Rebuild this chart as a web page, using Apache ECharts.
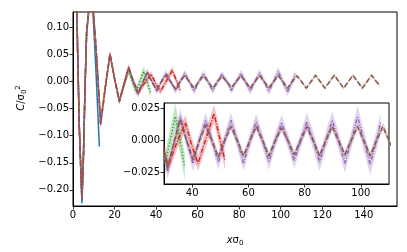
<!DOCTYPE html>
<html><head><meta charset="utf-8">
<script src="https://cdn.jsdelivr.net/npm/echarts@6/dist/echarts.min.js"></script>
<style>html,body{margin:0;padding:0;background:#fff}#c{width:407px;height:252px}</style>
</head><body><div id="c"></div>
<script>
// ---- data ----
const xBlue  = [0, 1, 2, 3, 4.3, 5.0, 5.8, 6.55, 8.8, 11.05, 12.7];
const yBlue  = [0.45, 0.33, 0.10, -0.08, -0.225, -0.15, -0.01, 0.09, 0.19, 0.02, -0.12];
const eBlue  = [0.004, 0.004, 0.004, 0.004, 0.005, 0.005, 0.005, 0.005, 0.005, 0.005, 0.005];

const xOrange = [0, 1, 2, 3, 4.3, 5.0, 5.8, 6.55, 8.8, 11.05, 13.3, 15.55, 17.8, 20.05, 22.3, 24.55, 26.5];
const yOrange = [0.45, 0.33, 0.10, -0.08, -0.215, -0.14, -0.01, 0.09, 0.175, 0.06, -0.068, -0.01, 0.05, 0.004, -0.035, -0.004, 0.024];
const eOrange = [0.004, 0.004, 0.004, 0.004, 0.005, 0.005, 0.005, 0.005, 0.006, 0.006, 0.006, 0.006, 0.006, 0.006, 0.006, 0.006, 0.006];

const xGreen = [0, 1, 2, 3, 4.3, 5.0, 5.8, 6.55, 8.8, 11.05, 13.3, 15.55, 17.8, 20.05, 22.3, 24.55, 26.8, 28.6, 30.4, 32.2, 34.0, 35.7, 37.4];
const yGreen = [0.45, 0.33, 0.10, -0.08, -0.218, -0.14, -0.01, 0.09, 0.18, 0.065, -0.075, -0.01, 0.05, 0.006, -0.035, -0.008, 0.02, 0.0, -0.018, 0.0, 0.019, 0.0, -0.021];
const eGreen = [0.004, 0.004, 0.004, 0.004, 0.005, 0.005, 0.005, 0.005, 0.006, 0.006, 0.006, 0.006, 0.006, 0.006, 0.007, 0.007, 0.008, 0.008, 0.008, 0.009, 0.010, 0.010, 0.010];

const xRed = [0, 1, 2, 3, 4.3, 5.0, 5.8, 6.55, 8.8, 11.05, 13.3, 15.55, 17.8, 20.05, 22.3, 24.55, 26.8, 29.05, 31.5, 34.5, 37.6, 39.9, 42.1, 45.0, 47.8, 49.8, 51.7];
const yRed = [0.45, 0.33, 0.10, -0.08, -0.218, -0.14, -0.01, 0.09, 0.18, 0.065, -0.08, -0.012, 0.052, 0.005, -0.037, -0.005, 0.027, 0.0, -0.020, -0.002, 0.014, -0.004, -0.018, 0.002, 0.021, 0.002, -0.016];
const eRed = [0.004, 0.004, 0.004, 0.004, 0.005, 0.005, 0.005, 0.005, 0.006, 0.006, 0.006, 0.006, 0.006, 0.006, 0.006, 0.006, 0.006, 0.006, 0.006, 0.006, 0.006, 0.006, 0.006, 0.007, 0.007, 0.007, 0.007];

const xPurple = [0, 1, 2, 3, 4.3, 5.0, 5.8, 6.55, 8.8, 11.05, 13.3, 15.55, 17.8, 20.05, 22.3, 24.55, 26.8, 29.05, 31.3, 33.55, 35.8, 38.05, 40.3, 42.55, 44.8, 47.05, 49.3, 51.55, 53.8, 56.05, 58.3, 60.55, 62.8, 65.05, 67.3, 69.55, 71.8, 74.05, 76.3, 78.55, 80.8, 83.05, 85.3, 87.55, 89.8, 92.05, 94.3, 96.55, 98.8, 101.05, 103.3, 105.55, 107.0];
const yPurple = [0.45, 0.33, 0.10, -0.08, -0.218, -0.14, -0.01, 0.09, 0.18, 0.065, -0.078, -0.01, 0.051, 0.005, -0.036, -0.005, 0.026, 0.0, -0.024, -0.002, 0.019, 0.0, -0.018, 0.0, 0.016, 0.0, -0.017, 0.0, 0.016, 0.0, -0.018, 0.0, 0.015, 0.0, -0.017, 0.0, 0.014, 0.0, -0.016, 0.0, 0.015, 0.0, -0.017, 0.0, 0.016, 0.0, -0.018, 0.0, 0.019, 0.0, -0.019, 0.0, 0.014];
const ePurple = [0.004, 0.004, 0.004, 0.004, 0.005, 0.005, 0.005, 0.005, 0.006, 0.006, 0.006, 0.006, 0.006, 0.006, 0.006, 0.006, 0.006, 0.006, 0.006, 0.006, 0.006, 0.006, 0.006, 0.006, 0.006, 0.006, 0.006, 0.006, 0.006, 0.006, 0.006, 0.006, 0.006, 0.006, 0.006, 0.006, 0.006, 0.006, 0.006, 0.006, 0.007, 0.007, 0.007, 0.007, 0.007, 0.007, 0.007, 0.007, 0.008, 0.008, 0.008, 0.008, 0.008];

const xBrown = [0, 1, 2, 3, 4.3, 5.0, 5.8, 6.55, 8.8, 11.05, 13.3, 15.55, 17.8, 20.05, 22.3, 24.55, 26.8, 29.05, 31.3, 33.55, 35.8, 38.05, 40.3, 42.55, 44.8, 47.05, 49.3, 51.55, 53.8, 56.05, 58.3, 60.55, 62.8, 65.05, 67.3, 69.55, 71.8, 74.05, 76.3, 78.55, 80.8, 83.05, 85.3, 87.55, 89.8, 92.05, 94.3, 96.55, 98.8, 101.05, 103.3, 105.55, 107.8, 110.05, 112.3, 114.55, 116.8, 119.05, 121.3, 123.55, 125.8, 128.05, 130.3, 132.55, 134.8, 137.05, 139.3, 141.55, 143.8, 146.05, 147.8];
const yBrown = [0.45, 0.33, 0.10, -0.08, -0.218, -0.14, -0.01, 0.09, 0.18, 0.065, -0.078, -0.01, 0.051, 0.005, -0.036, -0.005, 0.026, 0.0, -0.021, -0.001, 0.016, 0.0, -0.015, 0.0, 0.012, 0.0, -0.013, 0.0, 0.011, 0.0, -0.012, 0.0, 0.011, 0.0, -0.012, 0.0, 0.010, 0.0, -0.011, 0.0, 0.011, 0.0, -0.012, 0.0, 0.011, 0.0, -0.011, 0.0, 0.011, 0.0, -0.012, 0.0, 0.011, 0.0, -0.012, 0.0, 0.012, 0.0, -0.012, 0.0, 0.012, 0.0, -0.012, 0.0, 0.012, 0.0, -0.012, 0.0, 0.012, 0.0, -0.007];
const eBrown = [0.004, 0.004, 0.004, 0.004, 0.004, 0.004, 0.004, 0.004, 0.004, 0.004, 0.004, 0.004, 0.004, 0.004, 0.004, 0.004, 0.004, 0.003, 0.003, 0.003, 0.003, 0.003, 0.003, 0.003, 0.003, 0.003, 0.003, 0.003, 0.003, 0.003, 0.003, 0.003, 0.003, 0.003, 0.003, 0.003, 0.003, 0.003, 0.003, 0.003, 0.003, 0.003, 0.003, 0.003, 0.003, 0.003, 0.003, 0.003, 0.003, 0.003, 0.003, 0.003, 0.003, 0.003, 0.003, 0.003, 0.003, 0.003, 0.003, 0.003, 0.003, 0.003, 0.003, 0.003, 0.003, 0.003, 0.003, 0.003, 0.003, 0.003, 0.003];

const xTicksMain = [0, 20, 40, 60, 80, 100, 120, 140];
const yTicksMain = [-0.20, -0.15, -0.10, -0.05, 0.00, 0.05, 0.10];
const xTicksInset = [40, 60, 80, 100];
const yTicksInset = [-0.025, 0.000, 0.025];

// ---- chart ----
const curves = [
  {x: xBrown,  y: yBrown,  e: eBrown,  color: '#8c564b', type: [5, 2.5]},
  {x: xPurple, y: yPurple, e: ePurple, color: '#9467bd', type: [4, 1.5, 1, 1.5, 1, 1.5]},
  {x: xRed,    y: yRed,    e: eRed,    color: '#d62728', type: [5, 1.5, 1, 1.5]},
  {x: xGreen,  y: yGreen,  e: eGreen,  color: '#2ca02c', type: [1.2, 2]},
  {x: xOrange, y: yOrange, e: eOrange, color: '#ff7f0e', type: [4, 2]},
  {x: xBlue,   y: yBlue,   e: eBlue,   color: '#1f77b4', type: 'solid'}
];

function hexA(h, a) {
  const n = parseInt(h.slice(1), 16);
  return `rgba(${n >> 16},${(n >> 8) & 255},${n & 255},${a})`;
}

const series = [];
[0, 1].forEach(g => {
  const zl = g === 1 ? 1 : 0;
  curves.forEach(c => {
    series.push({
      type: 'custom', xAxisIndex: g, yAxisIndex: g, zlevel: zl, z: 2, silent: true,
      animation: false, data: [[c.x[0], c.y[0]]],
      renderItem: (params, api) => {
        const cs = params.coordSys;
        const up = c.x.map((x, k) => api.coord([x, c.y[k] + c.e[k]]));
        const lo = c.x.map((x, k) => api.coord([x, c.y[k] - c.e[k]])).reverse();
        return {
          type: 'group',
          clipPath: {type: 'rect', shape: {x: cs.x, y: cs.y, width: cs.width, height: cs.height}},
          children: [{type: 'polygon', shape: {points: up.concat(lo)}, style: {fill: hexA(c.color, 0.28), stroke: 'none'}}]
        };
      }
    });
  });
  curves.slice().reverse().forEach(c => {
    series.push({
      type: 'line', xAxisIndex: g, yAxisIndex: g, zlevel: zl, z: 3,
      symbol: 'none', silent: true, animation: false,
      lineStyle: {color: c.color, width: 1.5, type: c.type},
      data: c.x.map((x, k) => [x, c.y[k]])
    });
  });
});

const fmt = v => {
  const s = Math.abs(v) < 1e-9 ? 0 : v;
  return (s < 0 ? '\u2212' : '') + Math.abs(s).toFixed(2);
};
const fmt3 = v => {
  const s = Math.abs(v) < 1e-9 ? 0 : v;
  return (s < 0 ? '\u2212' : '') + Math.abs(s).toFixed(3);
};
const font = {fontFamily: 'DejaVu Sans', fontSize: 10, color: '#000'};
function axisCommon(ticks, formatter, zl) {
  return {
    zlevel: zl,
    axisLine: {show: true, onZero: false, lineStyle: {color: '#000', width: 1}},
    axisTick: {show: true, inside: false, length: 3.5, lineStyle: {color: '#000', width: 0.8}, customValues: ticks},
    axisLabel: Object.assign({margin: 4, customValues: ticks, formatter: formatter}, font),
    splitLine: {show: false}
  };
}

const option = {
  animation: false,
  backgroundColor: '#fff',
  grid: [
    {left: 73, top: 12, width: 324, height: 194, show: true, borderColor: '#000', borderWidth: 1, backgroundColor: 'transparent'},
    {left: 164, top: 103, width: 225, height: 81, show: true, borderColor: '#000', borderWidth: 1, backgroundColor: '#fff', zlevel: 1}
  ],
  xAxis: [
    Object.assign({type: 'value', gridIndex: 0, min: 0, max: 156,
      name: '{i|x}σ{s|0}', nameLocation: 'middle', nameGap: 28,
      nameTextStyle: {fontFamily: 'DejaVu Sans', fontSize: 10, color: '#000', rich: {i: {fontStyle: 'italic', fontFamily: 'DejaVu Sans', fontSize: 10}, s: {fontSize: 7, fontFamily: 'DejaVu Sans', verticalAlign: 'bottom', padding: [6, 0, 0, 0]}}}
    }, axisCommon(xTicksMain, v => String(v), 0)),
    Object.assign({type: 'value', gridIndex: 1, min: 30, max: 110}, axisCommon(xTicksInset, v => String(v), 1))
  ],
  yAxis: [
    Object.assign({type: 'value', gridIndex: 0, min: -0.23, max: 0.129,
      name: '{i|C}/σ{s|0}{p|2}', nameLocation: 'middle', nameGap: 41, nameRotate: 90,
      nameTextStyle: {fontFamily: 'DejaVu Sans', fontSize: 10, color: '#000', padding: [0, 0, 0, 22], rich: {i: {fontStyle: 'italic', fontFamily: 'DejaVu Sans', fontSize: 10}, s: {fontSize: 7, fontFamily: 'DejaVu Sans', verticalAlign: 'bottom', padding: [6, 0, 0, 0]}, p: {fontSize: 7, fontFamily: 'DejaVu Sans', verticalAlign: 'top', padding: [0, 0, 6, 0]}}}
    }, axisCommon(yTicksMain, fmt, 0)),
    Object.assign({type: 'value', gridIndex: 1, min: -0.034, max: 0.0294}, axisCommon(yTicksInset, fmt3, 1))
  ],
  series: series
};
const chart = echarts.init(document.getElementById('c'), null, {renderer: 'canvas'});
chart.setOption(option);
</script>
</body></html>
